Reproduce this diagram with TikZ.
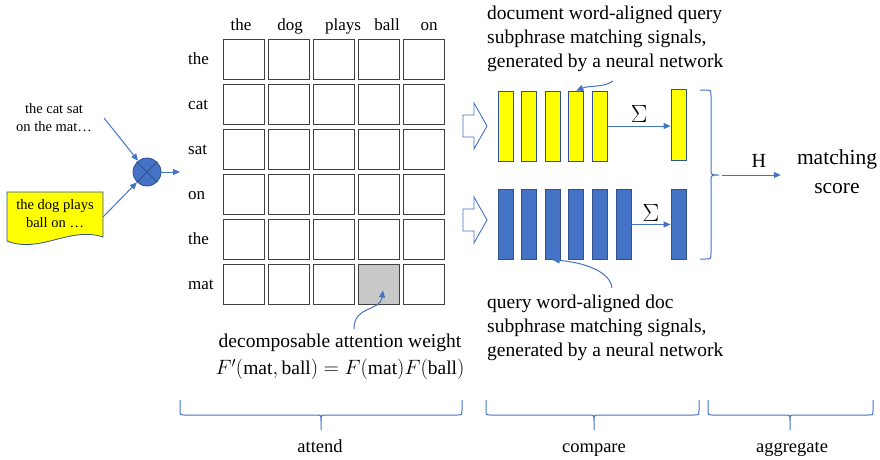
\documentclass[tikz,border=0pt]{standalone}
\usepackage{fontspec}
\setmainfont{Liberation Serif}
\usepackage{amsmath}
\usetikzlibrary{arrows.meta}
\definecolor{OfficeBlue}{RGB}{68,114,196}
\definecolor{BarEdge}{RGB}{47,82,143}
\definecolor{SignalYellow}{RGB}{255,255,0}
\definecolor{CellEdge}{RGB}{64,64,64}
\definecolor{HitGray}{RGB}{200,200,200}
% curly bracket under one stage: left end, right end, tip
\newcommand\stagebrace[3]{%
  \draw[bracepath] (#1,400) -- (#1,410) .. controls (#1,415) .. (#1+5,415) -- (#3-5,415)
    .. controls (#3,415) .. (#3,421) -- (#3,430) -- (#3,421) .. controls (#3,415) .. (#3+5,415)
    -- (#2-5,415) .. controls (#2,415) .. (#2,410) -- (#2,400);}

\begin{document}
\begin{tikzpicture}[x=1pt, y=-1pt,
    every node/.style={align=center, inner sep=1pt},
    flow/.style={OfficeBlue, line width=1pt, -{Triangle[length=7pt,width=6pt]}},
    cell/.style={draw=CellEdge, line width=1.3pt, minimum width=41pt, minimum height=40pt, inner sep=0pt},
    ybar/.style={draw=BarEdge, fill=SignalYellow, line width=0.8pt, minimum width=15pt, minimum height=70pt, inner sep=0pt},
    bbar/.style={ybar, fill=OfficeBlue},
    bracepath/.style={OfficeBlue, line width=1pt},
    lbl/.style={font=\fontsize{17}{20}\selectfont},
    small/.style={font=\fontsize{14.5}{18}\selectfont},
    sigtext/.style={font=\fontsize{19.5}{24}\selectfont},
    oplabel/.style={text=black, font=\fontsize{20}{24}\selectfont},
    sumlabel/.style={text=black, font=\fontsize{26}{30}\selectfont},
    stage/.style={font=\fontsize{18.5}{22}\selectfont}]
  \useasboundingbox (0,0) rectangle (880,459);

  % inputs: query, document, and their product
  \node[small] (query) at (54,118) {the cat sat\\on the mat\ldots};
  \draw[draw=BarEdge, fill=SignalYellow, line width=0.8pt] (7,192) -- (103,192) -- (103,237)
    .. controls (70,226) and (40,254) .. (7,241) -- cycle;
  \node[small] (doc) at (55,214) {the dog plays\\ball on \ldots};
  \coordinate (docR) at (103,217);
  \node[circle, draw=BarEdge, fill=OfficeBlue, line width=0.8pt, minimum size=28pt, inner sep=0pt] (mult) at (147,172) {};
  \draw[BarEdge, line width=0.8pt] (mult.north west) -- (mult.south east) (mult.north east) -- (mult.south west);
  \coordinate (gridin) at (180,172);
  \draw[flow] ([xshift=11pt]query.east) -- (mult);
  \draw[flow] (docR) -- (mult);
  \draw[flow] (mult) -- (gridin);

  % attention grid
  \foreach \x/\w in {241/the,290/dog,343/plays,387/ball,429/on}
    \node[lbl, anchor=base] (col-\w) at (\x,30) {\w};
  \foreach \r/\w in {1/the,2/cat,3/sat,4/on,5/the,6/mat} {
    \node[lbl, anchor=base west] (row\r) at (187,19.5+45*\r) {\w};
    \foreach \c in {1,...,5} {
      \ifnum\r\c=64 \def\cellfill{HitGray}\else\def\cellfill{white}\fi
      \node[cell, fill=\cellfill] (c\r\c) at (199+45*\c,14.5+45*\r) {};
    }
  }
  \node[sigtext] (attnote) at (340,357) {decomposable attention weight\\[3pt]$F'(\mathrm{mat},\mathrm{ball}) = F(\mathrm{mat})F(\mathrm{ball})$};
  \coordinate (attfrom) at (354,329);
  \draw[flow] (attfrom) .. controls (354,305) and (380,312) .. ([xshift=4pt,yshift=-6pt]c64.center);

  % hollow block arrows into the compare step
  \foreach \y in {126,220}
    \draw[OfficeBlue, line width=0.9pt, fill=white] (463,\y-11) -- (474,\y-11) -- (474,\y-23) -- (487,\y)
      -- (474,\y+23) -- (474,\y+11) -- (463,\y+11) -- cycle;

  % matching signals
  \foreach \i in {1,...,5}
    \node[ybar] (yb\i) at ({481.9+23.6*\i},126) {};
  \node[ybar, minimum height=71pt] (ysum) at (678.5,124.5) {};
  \foreach \i in {1,...,6}
    \node[bbar] (bb\i) at ({481.9+23.6*\i},224.5) {};
  \node[bbar] (bsum) at (678.5,224) {};
  \draw[flow] (yb5.east) -- (yb5.east -| ysum.west) node[midway, above=2pt, sumlabel] {$\Sigma$};
  \draw[flow] (bb6.east) -- (bb6.east -| bsum.west) node[midway, above=2pt, sumlabel] {$\Sigma$};

  \node[sigtext, anchor=north west, align=left] (topnote) at (486,5) {document word-aligned query\\subphrase matching signals,\\generated by a neural network};
  \coordinate (topfrom) at (613,81);
  \draw[flow] (topfrom) .. controls (603,88) and (590,85) .. (yb4.north);
  \node[sigtext, anchor=north west, align=left] (botnote) at (486,294) {query word-aligned doc\\subphrase matching signals,\\generated by a neural network};
  \coordinate (botfrom) at (612,288);
  \draw[flow] (botfrom) .. controls (610,270) and (580,262) .. (bb3.south);

  % aggregate
  \draw[bracepath] (700,90) -- (705,90) .. controls (711,90) .. (711,96) -- (711,169)
    .. controls (711,175) .. (719,175) .. controls (711,175) .. (711,181) -- (711,253)
    .. controls (711,259) .. (705,259) -- (700,259);
  \coordinate (bt) at (719,175);
  \node[font=\fontsize{21.5}{29}\selectfont] (score) at (837,172) {matching\\score};
  \draw[flow, shorten >=15pt] ([xshift=3pt]bt) -- (bt -| score.west) node[midway, above=6pt, oplabel] {H};

  % stages
  \stagebrace{180}{462}{321}
  \stagebrace{486}{699}{594}
  \stagebrace{708}{873}{790}
  \node[stage, anchor=base] (attend) at (320,452) {attend};
  \node[stage, anchor=base] (compare) at (594,452) {compare};
  \node[stage, anchor=base] (aggregate) at (792,452) {aggregate};
\end{tikzpicture}
\end{document}
